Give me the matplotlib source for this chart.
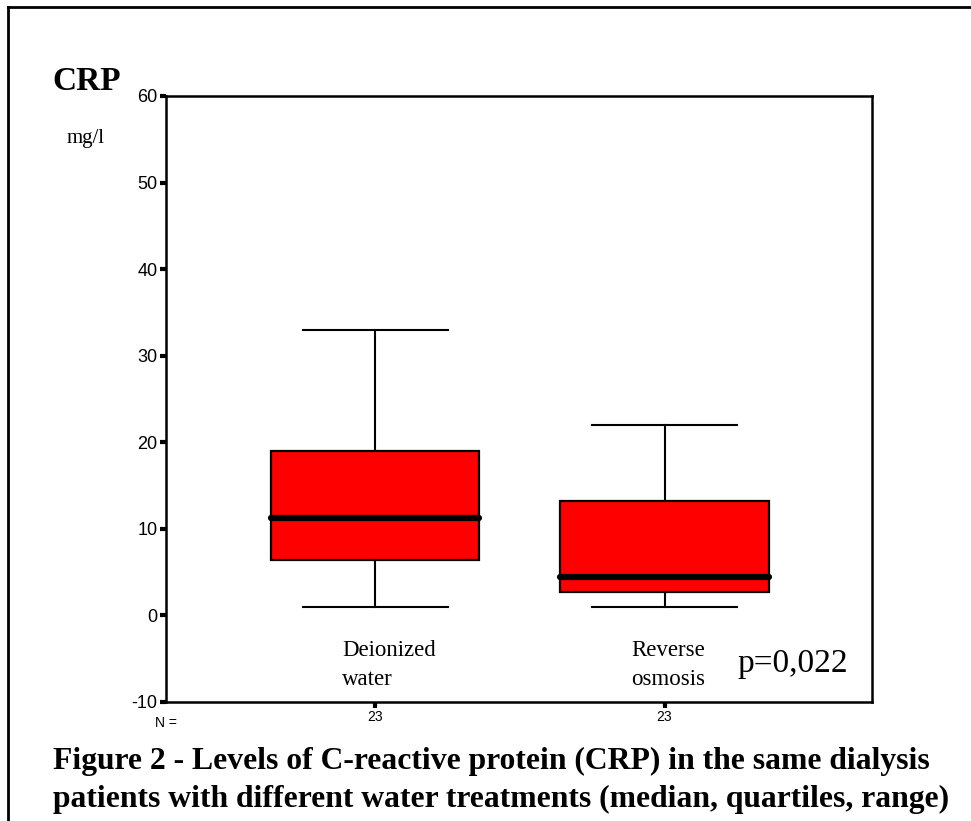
import matplotlib
matplotlib.use('Agg')
import matplotlib.pyplot as plt
from matplotlib.lines import Line2D

# values (mg/l)
groups = ['Deionized\nwater', 'Reverse\nosmosis']
n_counts = ['23', '23']
whislo = [1.0, 1.0]
q1 = [6.4, 2.7]
med = [11.2, 4.4]
q3 = [19.0, 13.2]
whishi = [33.0, 22.0]
y_ticks = [-10, 0, 10, 20, 30, 40, 50, 60]
p_text = 'p=0,022'
caption = ('Figure 2 - Levels of C-reactive protein (CRP) in the same dialysis\n'
           'patients with different water treatments (median, quartiles, range)')

serif = 'Liberation Serif'
sans = 'Liberation Sans'

fig = plt.figure(figsize=(9.71, 8.21), dpi=100)
ax = fig.add_axes([166/971, 1-702/821, (872-166)/971, (702-96)/821])

stats = []
for i in range(len(groups)):
    stats.append({'whislo': whislo[i], 'q1': q1[i], 'med': med[i],
                  'q3': q3[i], 'whishi': whishi[i], 'fliers': []})
pos = [1, 2]
ax.bxp(stats, positions=pos, widths=0.72, showfliers=False, patch_artist=True,
       boxprops=dict(facecolor='#ff0000', edgecolor='black', linewidth=1.6),
       medianprops=dict(color='black', linewidth=4.5, solid_capstyle='round'),
       whiskerprops=dict(color='black', linewidth=1.5),
       capprops=dict(color='black', linewidth=1.5), capwidths=0.5)

ax.set_xlim(0.277, 2.717)
ax.set_ylim(-10, 60)
ax.set_yticks(y_ticks)
ax.set_yticklabels([str(v) for v in y_ticks], fontfamily=sans, fontsize=13)
ax.set_xticks(pos)
ax.set_xticklabels(n_counts, fontfamily=sans, fontsize=10)
ax.tick_params(axis='both', direction='out', length=4, width=3, pad=2)
for s in ax.spines.values():
    s.set_linewidth(1.8)

# multi-line text: baseline alignment applies to the last line
for x, g in zip(pos, groups):
    ax.text(x - 0.115, -8.05, g, fontfamily=serif, fontsize=16.5, ha='left',
            va='baseline', linespacing=1.5)
ax.text(2.253, -6.55, p_text, fontfamily=serif, fontsize=24, ha='left', va='baseline')
ax.text(0, -11.6, 'N =', transform=ax.get_yaxis_transform(), fontfamily=sans,
        fontsize=10, ha='center', va='top')

fig.text(52/971, 1-90/821, 'CRP', fontfamily=serif, fontweight='bold', fontsize=24,
         ha='left', va='baseline')
fig.text(67/971, 1-143/821, 'mg/l', fontfamily=serif, fontsize=15, ha='left',
         va='baseline')
fig.text(53/971, 1-807/821, caption, fontfamily=serif, fontweight='bold', fontsize=22.8,
         ha='left', va='baseline', linespacing=1.4)

# outer frame (top and left edges)
fig.add_artist(Line2D([8/971, 1], [1-7/821, 1-7/821], transform=fig.transFigure,
                      color='black', linewidth=2))
fig.add_artist(Line2D([8/971, 8/971], [0, 1-7/821], transform=fig.transFigure,
                      color='black', linewidth=2))

fig.savefig('out.png', dpi=100)
